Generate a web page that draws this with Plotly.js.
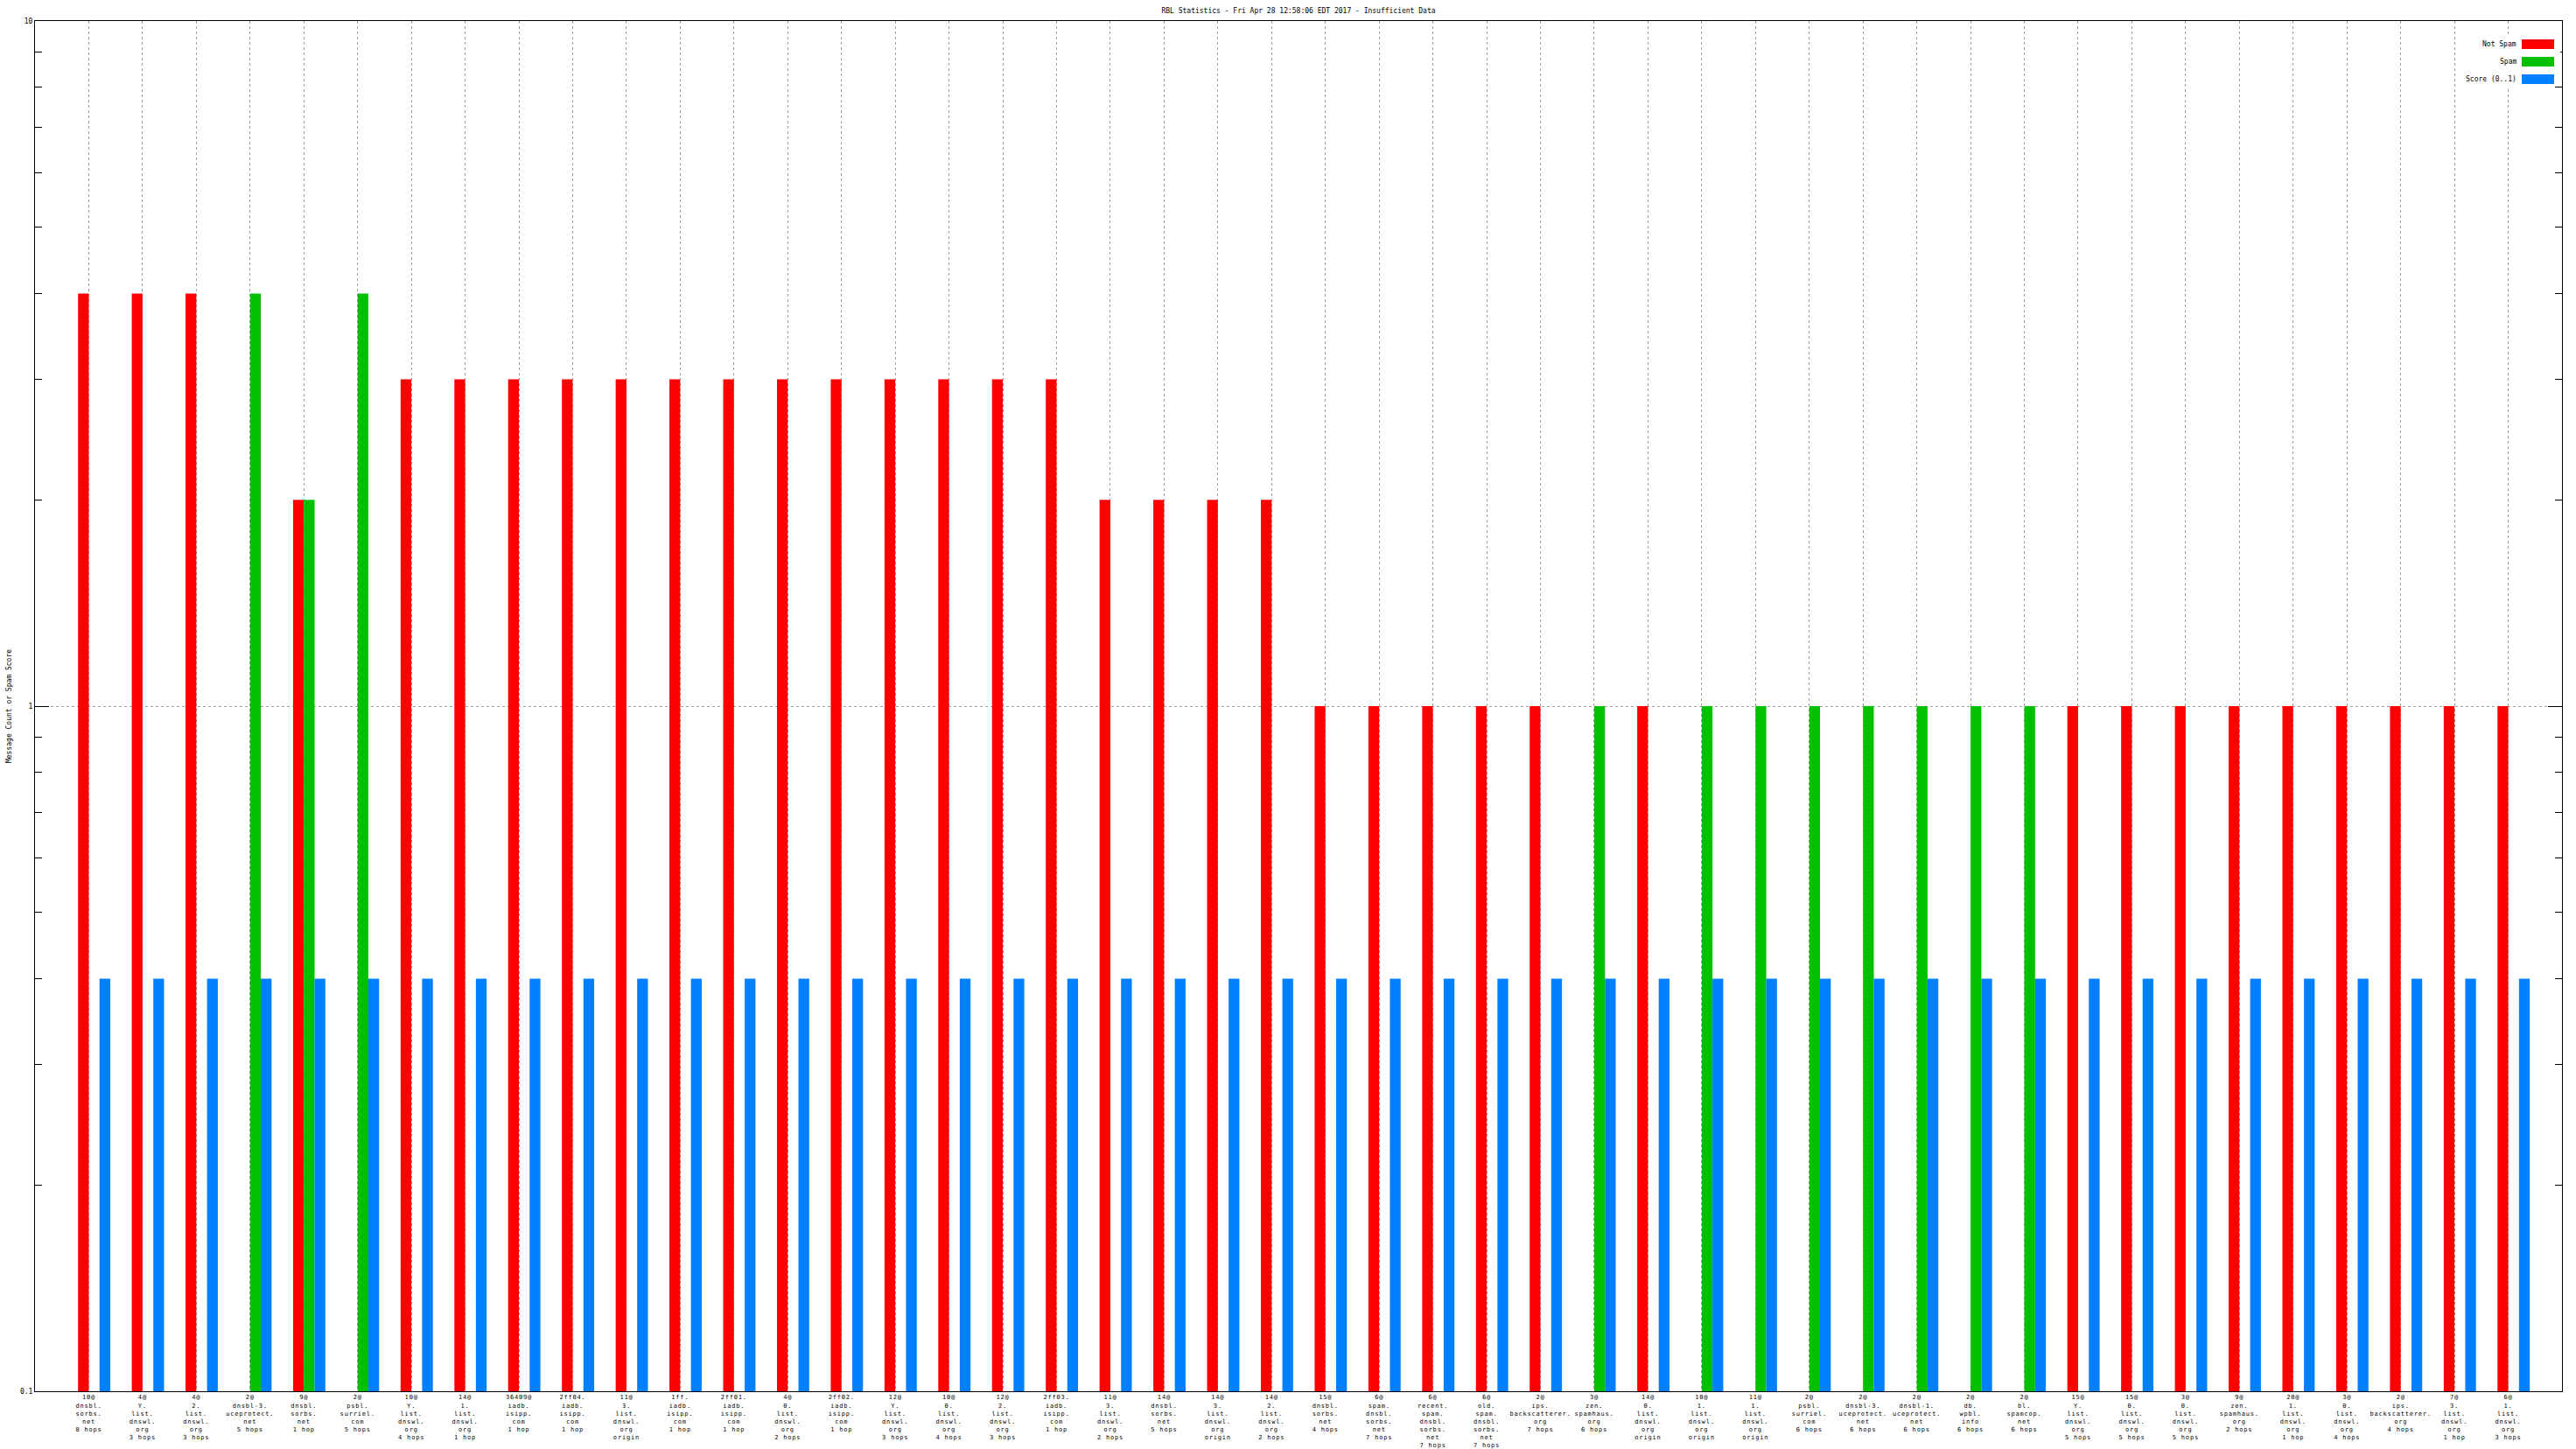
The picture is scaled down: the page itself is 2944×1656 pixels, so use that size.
<!DOCTYPE html>
<html>
<head>
<meta charset="utf-8">
<script src="https://cdn.plot.ly/plotly-3.0.1.min.js"></script>
<style>
html, body { margin: 0; padding: 0; background: #fff; }
#chart { width: 2944px; height: 1656px; }
#chart .xtick text { letter-spacing: 0.8px; }
</style>
</head>
<body>
<div id="chart"></div>
<script>
// ---- data ----
const categories = [
  "10@<br>dnsbl.<br>sorbs.<br>net<br>8 hops",
  "4@<br>Y.<br>list.<br>dnswl.<br>org<br>3 hops",
  "4@<br>2.<br>list.<br>dnswl.<br>org<br>3 hops",
  "2@<br>dnsbl-3.<br>uceprotect.<br>net<br>5 hops",
  "9@<br>dnsbl.<br>sorbs.<br>net<br>1 hop",
  "2@<br>psbl.<br>surriel.<br>com<br>5 hops",
  "10@<br>Y.<br>list.<br>dnswl.<br>org<br>4 hops",
  "14@<br>1.<br>list.<br>dnswl.<br>org<br>1 hop",
  "36409@<br>iadb.<br>isipp.<br>com<br>1 hop",
  "2ff04.<br>iadb.<br>isipp.<br>com<br>1 hop",
  "11@<br>3.<br>list.<br>dnswl.<br>org<br>origin",
  "1ff.<br>iadb.<br>isipp.<br>com<br>1 hop",
  "2ff01.<br>iadb.<br>isipp.<br>com<br>1 hop",
  "4@<br>0.<br>list.<br>dnswl.<br>org<br>2 hops",
  "2ff02.<br>iadb.<br>isipp.<br>com<br>1 hop",
  "12@<br>Y.<br>list.<br>dnswl.<br>org<br>3 hops",
  "10@<br>0.<br>list.<br>dnswl.<br>org<br>4 hops",
  "12@<br>2.<br>list.<br>dnswl.<br>org<br>3 hops",
  "2ff03.<br>iadb.<br>isipp.<br>com<br>1 hop",
  "11@<br>3.<br>list.<br>dnswl.<br>org<br>2 hops",
  "14@<br>dnsbl.<br>sorbs.<br>net<br>5 hops",
  "14@<br>3.<br>list.<br>dnswl.<br>org<br>origin",
  "14@<br>2.<br>list.<br>dnswl.<br>org<br>2 hops",
  "15@<br>dnsbl.<br>sorbs.<br>net<br>4 hops",
  "6@<br>spam.<br>dnsbl.<br>sorbs.<br>net<br>7 hops",
  "6@<br>recent.<br>spam.<br>dnsbl.<br>sorbs.<br>net<br>7 hops",
  "6@<br>old.<br>spam.<br>dnsbl.<br>sorbs.<br>net<br>7 hops",
  "2@<br>ips.<br>backscatterer.<br>org<br>7 hops",
  "3@<br>zen.<br>spamhaus.<br>org<br>6 hops",
  "14@<br>0.<br>list.<br>dnswl.<br>org<br>origin",
  "10@<br>1.<br>list.<br>dnswl.<br>org<br>origin",
  "11@<br>1.<br>list.<br>dnswl.<br>org<br>origin",
  "2@<br>psbl.<br>surriel.<br>com<br>6 hops",
  "2@<br>dnsbl-3.<br>uceprotect.<br>net<br>6 hops",
  "2@<br>dnsbl-1.<br>uceprotect.<br>net<br>6 hops",
  "2@<br>db.<br>wpbl.<br>info<br>6 hops",
  "2@<br>bl.<br>spamcop.<br>net<br>6 hops",
  "15@<br>Y.<br>list.<br>dnswl.<br>org<br>5 hops",
  "15@<br>0.<br>list.<br>dnswl.<br>org<br>5 hops",
  "3@<br>0.<br>list.<br>dnswl.<br>org<br>5 hops",
  "9@<br>zen.<br>spamhaus.<br>org<br>2 hops",
  "20@<br>1.<br>list.<br>dnswl.<br>org<br>1 hop",
  "3@<br>0.<br>list.<br>dnswl.<br>org<br>4 hops",
  "2@<br>ips.<br>backscatterer.<br>org<br>4 hops",
  "7@<br>3.<br>list.<br>dnswl.<br>org<br>1 hop",
  "6@<br>1.<br>list.<br>dnswl.<br>org<br>3 hops"
];

const notSpam = [4,4,4,null,2,null,3,3,3,3,3,3,3,3,3,3,3,3,3,2,2,2,2,1,1,1,1,1,null,1,null,null,null,null,null,null,null,1,1,1,1,1,1,1,1,1];
const spam    = [null,null,null,4,2,4,null,null,null,null,null,null,null,null,null,null,null,null,null,null,null,null,null,null,null,null,null,null,1,null,1,1,1,1,1,1,1,null,null,null,null,null,null,null,null,null];
const score   = [0.4,0.4,0.4,0.4,0.4,0.4,0.4,0.4,0.4,0.4,0.4,0.4,0.4,0.4,0.4,0.4,0.4,0.4,0.4,0.4,0.4,0.4,0.4,0.4,0.4,0.4,0.4,0.4,0.4,0.4,0.4,0.4,0.4,0.4,0.4,0.4,0.4,0.4,0.4,0.4,0.4,0.4,0.4,0.4,0.4,0.4];

const seriesNames = ["Not Spam", "Spam", "Score (0..1)"];
const seriesColors = ["#ff0000", "#00c000", "#0080ff"];
const seriesValues = [notSpam, spam, score];

const titleText = "RBL Statistics - Fri Apr 28 12:58:06 EDT 2017 - Insufficient Data";
const yTitleText = "Message Count or Spam Score";
const yTickVals = [0.1, 1, 10];
const yTickText = ["0.1", "1", "10"];

// ---- build ----
const W = 2944, H = 1656;
const M = {l: 40, r: 16, t: 24, b: 66};
const PW = W - M.l - M.r, PH = H - M.t - M.b;
const FONT = "DejaVu Sans Mono, monospace";

const idx = categories.map((_, i) => i);
const offsets = [-0.2, 0, 0.2];

const traces = seriesValues.map((vals, k) => ({
  type: "bar",
  name: seriesNames[k],
  x: idx,
  y: vals,
  width: 0.2,
  offset: offsets[k],
  marker: {color: seriesColors[k], line: {width: 0}},
  showlegend: false,
  hoverinfo: "skip"
}));

const minorVals = [];
[0.1, 1].forEach(d => { for (let m = 2; m <= 9; m++) minorVals.push(+(d * m).toFixed(2)); });

// custom legend (text left of swatch, like gnuplot)
const px2x = p => (p - M.l) / PW;
const px2y = p => 1 - (p - M.t) / PH;
const shapes = [{
  type: "rect", xref: "paper", yref: "paper", layer: "above",
  x0: px2x(2812), x1: px2x(2926), y0: px2y(99), y1: px2y(41),
  fillcolor: "#ffffff", line: {width: 0}
}];
const annotations = [];
seriesNames.forEach((n, k) => {
  const cy = 50.5 + 20 * k;
  shapes.push({
    type: "rect", xref: "paper", yref: "paper", layer: "above",
    x0: px2x(2882), x1: px2x(2919), y0: px2y(cy + 5.5), y1: px2y(cy - 5.5),
    fillcolor: seriesColors[k], line: {width: 0}
  });
  annotations.push({
    xref: "paper", yref: "paper", x: px2x(2878), y: px2y(cy),
    xanchor: "right", yanchor: "middle", showarrow: false,
    text: n, font: {family: FONT, size: 8, color: "#000"}
  });
});

const layout = {
  width: W, height: H,
  margin: M,
  paper_bgcolor: "#ffffff",
  plot_bgcolor: "#ffffff",
  barmode: "overlay",
  showlegend: false,
  font: {family: FONT, size: 8, color: "#000"},
  title: {
    text: titleText, x: 0.5, xref: "paper", xanchor: "center",
    y: 1 - 12 / H, yref: "container", yanchor: "middle",
    font: {family: FONT, size: 8, color: "#000"}
  },
  xaxis: {
    type: "linear",
    range: [-1, 46],
    tickmode: "array",
    tickvals: idx,
    ticktext: categories,
    tickangle: 0,
    ticks: "",
    showline: true, linecolor: "#000", linewidth: 1, mirror: true,
    showgrid: true, gridcolor: "#a0a0a0", griddash: "dot", gridwidth: 1,
    zeroline: false,
    tickfont: {family: FONT, size: 7, color: "#000"},
    automargin: false
  },
  xaxis2: {
    type: "linear",
    overlaying: "x",
    matches: "x",
    side: "top",
    range: [-1, 46],
    tickmode: "array",
    tickvals: idx,
    showticklabels: false,
    ticks: "inside", ticklen: 16, tickwidth: 1, tickcolor: "#000",
    showline: false, showgrid: false, zeroline: false,
    automargin: false
  },
  yaxis: {
    type: "log",
    range: [-1, 1],
    tickmode: "array",
    tickvals: yTickVals,
    ticktext: yTickText,
    ticks: "inside", ticklen: 16, tickwidth: 1, tickcolor: "#000",
    minor: {tickmode: "array", tickvals: minorVals, ticks: "inside", ticklen: 8, tickwidth: 1, tickcolor: "#000", showgrid: false},
    showline: true, linecolor: "#000", linewidth: 1, mirror: "ticks",
    showgrid: true, gridcolor: "#a0a0a0", griddash: "dot", gridwidth: 1,
    zeroline: false,
    tickfont: {family: FONT, size: 8, color: "#000"},
    title: {text: yTitleText, standoff: 8, font: {family: FONT, size: 8, color: "#000"}},
    automargin: false
  },
  shapes: shapes,
  annotations: annotations
};

Plotly.newPlot("chart", traces, layout, {displayModeBar: false, staticPlot: true});
</script>
</body>
</html>
